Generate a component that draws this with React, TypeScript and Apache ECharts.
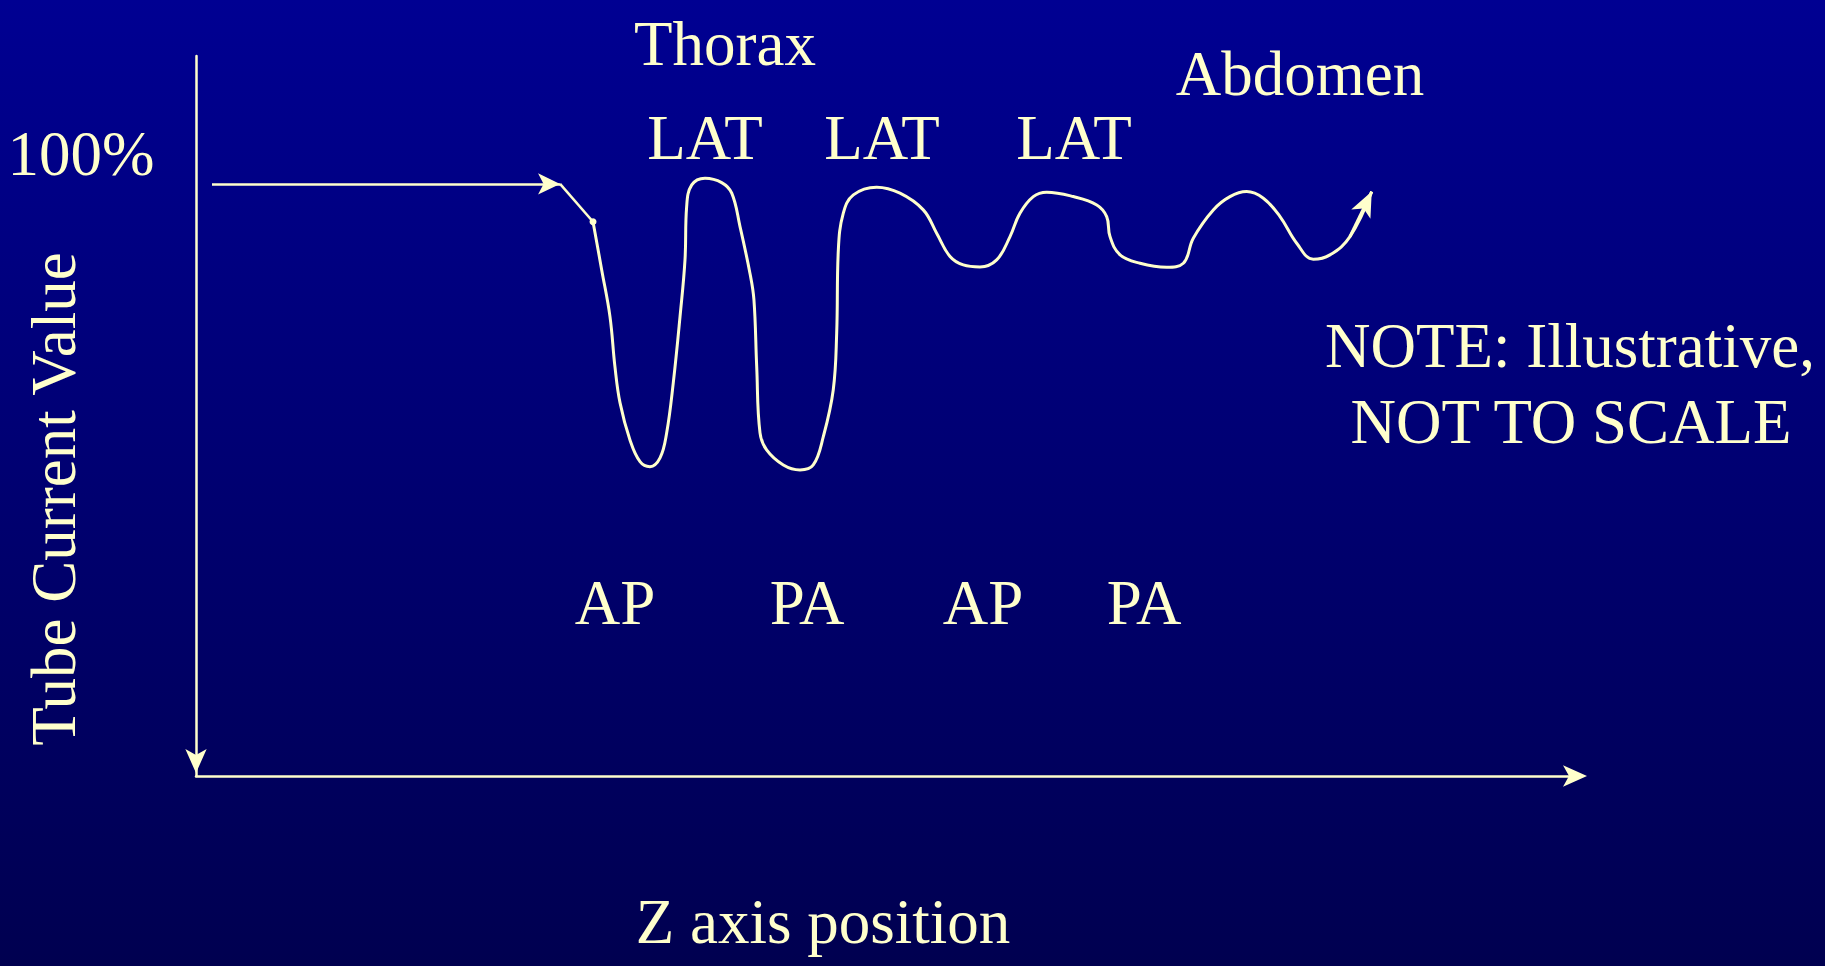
import React, { useEffect, useRef } from 'react';
import * as echarts from 'echarts';

const CREAM = '#FFFFCC';
const FONT = '"Liberation Serif", "Times New Roman", Times, serif';

// Lead-in: constant 100% tube current (Z positions, % of max)
const leadZ = [1.16, 26.4];
const leadLevel = 100;
const dropZ = [26.4, 28.79];
const dropCurrent = [100, 93.6];

// Modulated tube current along Z
const curveZ = [
  28.79, 29.42, 30.02, 30.38, 30.75, 31.47, 32.2, 32.92, 33.65, 34.13,
  34.61, 35.1, 35.46, 35.58, 35.95, 36.91, 38.12, 38.85, 39.45, 40.17,
  40.46, 40.66, 40.9, 41.38, 42.59, 43.8, 44.76, 45.49, 46.21, 46.46,
  46.58, 46.94, 47.67, 49.36, 51.05, 52.74, 53.71, 54.68, 55.64, 56.85,
  58.06, 59.03, 59.75, 60.72, 61.69, 63.62, 65.32, 66.04, 66.28, 67.01,
  68.46, 70.39, 71.6, 72.32, 73.77, 74.98, 76.19, 77.4, 78.61, 79.82,
  81.02, 82.23, 83.68, 85.26,
];
const curveCurrent = [
  93.6, 85.47, 77.59, 69.14, 63.01, 56.76, 53.09, 52.25, 53.72, 57.94,
  66.39, 77.59, 87.16, 96.17, 99.83, 100.96, 100.22, 98.43, 92.79, 84.92,
  80.41, 69.14, 57.94, 55.07, 52.53, 51.69, 52.53, 57.31, 65.2, 74.78,
  88.85, 95.05, 98.14, 99.44, 98.43, 95.61, 91.67, 87.74, 86.32, 85.98,
  87.16, 91.1, 95.05, 97.86, 98.6, 97.86, 96.45, 94.48, 91.1, 88.01,
  86.6, 85.93, 86.6, 90.83, 95.61, 97.86, 98.7, 97.58, 94.48, 89.98,
  87.28, 88.01, 91.1, 98.7,
];

const regionLabels = ['Thorax', 'Abdomen'];
const latLabels = ['LAT', 'LAT', 'LAT'];
const viewLabels = ['AP', 'PA', 'AP', 'PA'];
const levelLabel = '100%';
const yTitle = 'Tube Current Value';
const xTitle = 'Z axis position';
const noteLines = ['NOTE: Illustrative,', 'NOT TO SCALE'];

function txt(text: string, x: number, y: number, rotation = 0) {
  return {
    type: 'text',
    x,
    y,
    rotation,
    silent: true,
    style: {
      text,
      x: 0,
      y: 0,
      fill: CREAM,
      fontSize: 63,
      fontFamily: FONT,
      align: 'center',
      verticalAlign: 'middle',
    },
  };
}

export default function App() {
  const ref = useRef<HTMLDivElement>(null);

  useEffect(() => {
    if (!ref.current) return;
    const chart = echarts.init(ref.current, undefined, { renderer: 'svg' });

    const n = curveZ.length;
    const curveData = curveZ.map((z, i) => [z, curveCurrent[i]]);

    const graphic: any[] = [
      txt(regionLabels[0], 725, 44),
      txt(regionLabels[1], 1300, 74),
      txt(latLabels[0], 705, 138),
      txt(latLabels[1], 882, 138),
      txt(latLabels[2], 1074, 138),
      txt(viewLabels[0], 615, 603),
      txt(viewLabels[1], 807, 603),
      txt(viewLabels[2], 983, 603),
      txt(viewLabels[3], 1144, 603),
      txt(levelLabel, 81, 154),
      txt(yTitle, 54, 499, Math.PI / 2),
      txt(xTitle, 823, 922),
      txt(noteLines[0], 1570, 346),
      txt(noteLines[1], 1571, 422),
    ];

    const axisLineStyle = { color: CREAM, width: 2.5 };

    chart.setOption({
      animation: false,
      backgroundColor: {
        type: 'linear',
        x: 0,
        y: 0,
        x2: 0,
        y2: 1,
        colorStops: [
          { offset: 0, color: '#000092' },
          { offset: 1, color: '#000050' },
        ],
      },
      grid: { left: 196, right: 250, top: 56, bottom: 190, outerBoundsMode: 'none' },
      xAxis: {
        type: 'value',
        min: 0,
        max: 100,
        axisLine: {
          show: true,
          onZero: false,
          symbol: ['none', 'arrow'],
          symbolSize: [16, 24],
          symbolOffset: [0, 12],
          lineStyle: axisLineStyle,
        },
        axisTick: { show: false },
        axisLabel: { show: false },
        splitLine: { show: false },
      },
      yAxis: {
        type: 'value',
        min: 0,
        max: 121.6,
        axisLine: {
          show: true,
          onZero: false,
          symbol: ['arrow', 'none'],
          symbolSize: [16, 24],
          symbolOffset: [3, 0],
          lineStyle: axisLineStyle,
        },
        axisTick: { show: false },
        axisLabel: { show: false },
        splitLine: { show: false },
      },
      series: [
        {
          type: 'line',
          name: 'lead',
          silent: true,
          symbol: 'none',
          showSymbol: true,
          color: CREAM,
          itemStyle: { color: CREAM },
          lineStyle: { color: CREAM, width: 2.5 },
          data: [
            [dropZ[0], dropCurrent[0]],
            { value: [dropZ[1], dropCurrent[1]], symbol: 'circle', symbolSize: 7 },
          ],
          markLine: {
            silent: true,
            symbol: ['none', 'arrow'],
            symbolSize: [16, 22],
            label: { show: false },
            lineStyle: { color: CREAM, width: 2.5, type: 'solid' },
            itemStyle: { color: CREAM },
            data: [[{ coord: [leadZ[0], leadLevel] }, { coord: [leadZ[1], leadLevel] }]],
          },
        },
        {
          type: 'line',
          name: 'tube current',
          silent: true,
          smooth: 0.4,
          symbol: 'none',
          showSymbol: false,
          color: CREAM,
          itemStyle: { color: CREAM },
          lineStyle: { color: CREAM, width: 3 },
          data: curveData,
          markLine: {
            silent: true,
            symbol: ['none', 'arrow'],
            symbolSize: [16, 25],
            label: { show: false },
            lineStyle: { color: CREAM, width: 3, type: 'solid' },
            itemStyle: { color: CREAM },
            data: [[{ coord: curveData[n - 2] }, { coord: curveData[n - 1] }]],
          },
        },
      ],
      graphic,
    });

    return () => chart.dispose();
  }, []);

  return (
    <div
      ref={ref}
      style={{ position: 'absolute', left: 0, top: 0, width: 1825, height: 966 }}
    />
  );
}
